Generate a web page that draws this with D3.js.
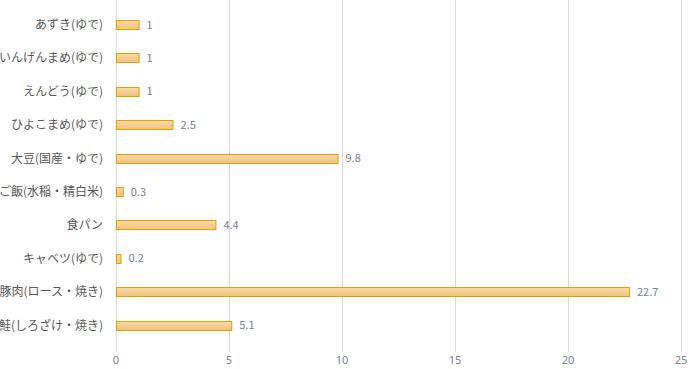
<!DOCTYPE html>
<html><head><meta charset="utf-8">
<script src="https://cdn.jsdelivr.net/npm/d3@7"></script>
<style>body{margin:0;background:#fff}</style></head>
<body><svg id="c" width="700" height="369"></svg>
<script>
const categories = ["あずき(ゆで)","いんげんまめ(ゆで)","えんどう(ゆで)","ひよこまめ(ゆで)","大豆(国産・ゆで)","ご飯(水稲・精白米)","食パン","キャベツ(ゆで)","豚肉(ロース・焼き)","鮭(しろざけ・焼き)"];
const values = [1,1,1,2.5,9.8,0.3,4.4,0.2,22.7,5.1];
const ticks = [0,5,10,15,20,25];

const svg = d3.select("#c");
const font = "'Noto Sans CJK JP', 'Noto Sans', sans-serif";
const x = d3.scaleLinear().domain([0,25]).range([116,681]);
const y = d3.scaleBand().domain(categories).range([7.8,341.8]).paddingInner(0.72).paddingOuter(0.36);

const defs = svg.append("defs");
const g = defs.append("linearGradient").attr("id","bg").attr("x1",0).attr("y1",0).attr("x2",0).attr("y2",1);
g.append("stop").attr("offset","0%").attr("stop-color","#F9D9A8");
g.append("stop").attr("offset","100%").attr("stop-color","#F2C27E");

svg.append("g").selectAll("line").data(ticks).join("line")
  .attr("x1",d=>x(d)+0.5).attr("x2",d=>x(d)+0.5).attr("y1",0).attr("y2",352)
  .attr("stroke","#D9D9D9").attr("stroke-width",1);

svg.append("g").selectAll("text").data(ticks).join("text")
  .attr("x",d=>x(d)).attr("y",364).attr("text-anchor","middle")
  .attr("font-family","'Noto Sans', sans-serif").attr("font-size",11).attr("fill","#7A8294").text(d=>d);

const bw = y.bandwidth();
svg.append("g").selectAll("rect").data(values).join("rect")
  .attr("x",x(0)+0.5).attr("y",(d,i)=>Math.round(y(categories[i])+(bw-9)/2)+0.5)
  .attr("width",d=>x(d)-x(0)).attr("height",9)
  .attr("fill","url(#bg)").attr("stroke","#DFA200").attr("stroke-width",1);

svg.append("g").selectAll("text").data(values).join("text")
  .attr("x",d=>x(d)+8).attr("y",(d,i)=>y(categories[i])+bw/2+4)
  .attr("font-family",font).attr("font-size",11).attr("fill","#7A8294").text(d=>d);

svg.append("g").selectAll("text").data(categories).join("text")
  .attr("x",103).attr("y",d=>y(d)+bw/2+4.5).attr("text-anchor","end")
  .attr("font-family",font).attr("font-size",12).attr("fill","#595959").text(d=>d);
</script></body></html>
